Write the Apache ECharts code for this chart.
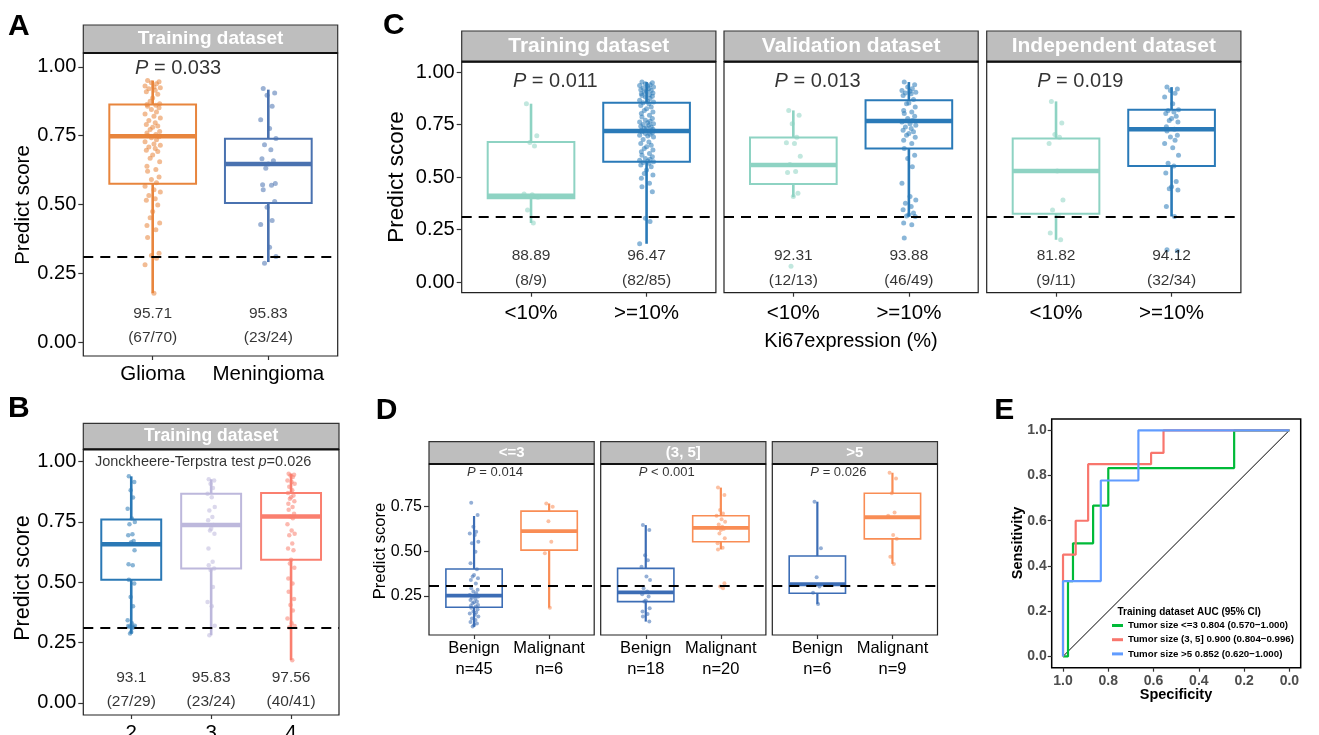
<!DOCTYPE html>
<html>
<head>
<meta charset="utf-8">
<script src="https://cdn.jsdelivr.net/npm/echarts@6/dist/echarts.min.js"></script>
<style>
  html, body { margin: 0; padding: 0; background: #fff; }
  #main { width: 1319px; height: 735px; }
</style>
</head>
<body>
<div id="main"></div>
<script>
// ---------- data ----------
// panel A
const aCats = ['Glioma', 'Meningioma'];
const aBoxes = [[0.178, 0.575, 0.748, 0.863, 0.950], [0.291, 0.505, 0.647, 0.739, 0.917]];
const aGlioma = [0.950, 0.946, 0.942, 0.938, 0.930, 0.927, 0.924, 0.920, 0.915, 0.909,
  0.900, 0.887, 0.875, 0.866, 0.863, 0.860, 0.857, 0.851, 0.845, 0.836,
  0.829, 0.820, 0.814, 0.805, 0.797, 0.790, 0.785, 0.780, 0.772, 0.765,
  0.760, 0.754, 0.750, 0.746, 0.742, 0.735, 0.728, 0.720, 0.715, 0.709,
  0.703, 0.697, 0.692, 0.680, 0.668, 0.655, 0.639, 0.627, 0.621, 0.600,
  0.591, 0.579, 0.566, 0.554, 0.545, 0.533, 0.521, 0.515, 0.498, 0.475,
  0.452, 0.433, 0.424, 0.408, 0.380, 0.323, 0.315, 0.305, 0.281, 0.178];
const aMening = [0.921, 0.905, 0.897, 0.857, 0.808, 0.776, 0.740, 0.717, 0.699, 0.666,
  0.659, 0.647, 0.632, 0.576, 0.572, 0.570, 0.554, 0.511, 0.490, 0.442,
  0.427, 0.345, 0.311, 0.287];
const aRates = ['95.71', '95.83'];
const aCounts = ['(67/70)', '(23/24)'];

// panel B
const bCats = ['2', '3', '4'];
const bBoxes = [[0.287, 0.510, 0.657, 0.759, 0.938], [0.280, 0.556, 0.737, 0.866, 0.926], [0.177, 0.593, 0.772, 0.869, 0.949]];
const bG2 = [0.938, 0.915, 0.880, 0.850, 0.804, 0.763, 0.749, 0.740, 0.698, 0.694,
  0.670, 0.665, 0.659, 0.632, 0.574, 0.570, 0.510, 0.494, 0.439, 0.400,
  0.342, 0.330, 0.320, 0.315, 0.312, 0.318, 0.313, 0.294, 0.287];
const bG3 = [0.926, 0.921, 0.907, 0.890, 0.866, 0.852, 0.811, 0.797, 0.770, 0.756,
  0.737, 0.721, 0.714, 0.700, 0.639, 0.584, 0.570, 0.556, 0.550, 0.480,
  0.418, 0.400, 0.320, 0.280];
const bG4 = [0.949, 0.945, 0.942, 0.935, 0.921, 0.915, 0.907, 0.895, 0.880, 0.869,
  0.859, 0.852, 0.845, 0.835, 0.825, 0.811, 0.800, 0.783, 0.772, 0.765,
  0.740, 0.714, 0.700, 0.694, 0.660, 0.639, 0.632, 0.593, 0.577, 0.560,
  0.515, 0.494, 0.460, 0.430, 0.405, 0.383, 0.350, 0.330, 0.318, 0.312, 0.177];
const bRates = ['93.1', '95.83', '97.56'];
const bCounts = ['(27/29)', '(23/24)', '(40/41)'];

// panel C
const cCats = ['<10%', '>=10%'];
const cTitles = ['Training dataset', 'Validation dataset', 'Independent dataset'];
const cPvals = ['0.011', '0.013', '0.019'];
const cBoxes = [
  [[0.282, 0.400, 0.412, 0.668, 0.850], [0.183, 0.574, 0.720, 0.855, 0.953]],
  [[0.405, 0.468, 0.558, 0.689, 0.818], [0.313, 0.637, 0.768, 0.866, 0.953]],
  [[0.202, 0.326, 0.529, 0.684, 0.861], [0.313, 0.553, 0.728, 0.821, 0.929]]
];
const cTrainLow = [0.850, 0.697, 0.665, 0.648, 0.420, 0.416, 0.405, 0.344, 0.282];
const cTrainHigh = [0.953, 0.950, 0.945, 0.940, 0.937, 0.933, 0.929, 0.925, 0.921, 0.917,
  0.913, 0.909, 0.905, 0.901, 0.897, 0.893, 0.889, 0.885, 0.882, 0.875,
  0.866, 0.862, 0.858, 0.854, 0.850, 0.842, 0.834, 0.826, 0.818, 0.810,
  0.803, 0.795, 0.787, 0.780, 0.771, 0.767, 0.763, 0.759, 0.755, 0.751,
  0.747, 0.743, 0.739, 0.735, 0.732, 0.728, 0.724, 0.720, 0.716, 0.712,
  0.708, 0.704, 0.700, 0.696, 0.692, 0.680, 0.668, 0.660, 0.652, 0.645,
  0.637, 0.629, 0.621, 0.613, 0.605, 0.597, 0.589, 0.585, 0.581, 0.577,
  0.574, 0.570, 0.566, 0.558, 0.550, 0.534, 0.518, 0.510, 0.495, 0.471,
  0.455, 0.431, 0.305, 0.289, 0.183];
const cValLow = [0.818, 0.795, 0.755, 0.690, 0.664, 0.661, 0.600, 0.560, 0.527, 0.522, 0.423, 0.408, 0.076];
const cValHigh = [0.953, 0.940, 0.929, 0.921, 0.913, 0.909, 0.905, 0.901, 0.897, 0.889,
  0.870, 0.853, 0.850, 0.834, 0.818, 0.811, 0.803, 0.790, 0.779, 0.770,
  0.763, 0.755, 0.747, 0.739, 0.732, 0.724, 0.716, 0.708, 0.700, 0.690,
  0.676, 0.660, 0.637, 0.605, 0.589, 0.550, 0.471, 0.408, 0.392, 0.376,
  0.360, 0.345, 0.329, 0.321, 0.315, 0.313, 0.282, 0.274, 0.211];
const cIndLow = [0.861, 0.758, 0.703, 0.690, 0.661, 0.529, 0.392, 0.344, 0.318, 0.234, 0.202];
const cIndHigh = [0.929, 0.920, 0.913, 0.900, 0.882, 0.850, 0.821, 0.818, 0.810, 0.803,
  0.790, 0.779, 0.770, 0.763, 0.740, 0.728, 0.720, 0.700, 0.692, 0.676,
  0.661, 0.640, 0.605, 0.566, 0.553, 0.520, 0.480, 0.455, 0.445, 0.439,
  0.360, 0.313, 0.155, 0.150];
const cRates = [['88.89', '96.47'], ['92.31', '93.88'], ['81.82', '94.12']];
const cCounts = [['(8/9)', '(82/85)'], ['(12/13)', '(46/49)'], ['(9/11)', '(32/34)']];

// panel D
const dCats = ['Benign', 'Malignant'];
const dTitles = ['<=3', '(3, 5]', '>5'];
const dN = [[45, 6], [18, 20], [6, 9]];
const dPtext = ['{i|P} = 0.014', '{i|P} < 0.001', '{i|P} = 0.026'];
const dBoxes = [
  [[0.078, 0.187, 0.252, 0.401, 0.698], [0.185, 0.507, 0.613, 0.725, 0.768]],
  [[0.107, 0.219, 0.271, 0.405, 0.647], [0.511, 0.554, 0.632, 0.699, 0.857]],
  [[0.206, 0.266, 0.316, 0.474, 0.778], [0.430, 0.570, 0.691, 0.825, 0.940]]
];
const dBenign1 = [0.772, 0.703, 0.638, 0.610, 0.600, 0.591, 0.554, 0.545, 0.498, 0.433,
  0.400, 0.368, 0.359, 0.350, 0.340, 0.320, 0.293, 0.285, 0.275, 0.265,
  0.256, 0.252, 0.247, 0.240, 0.235, 0.228, 0.220, 0.215, 0.209, 0.200,
  0.195, 0.191, 0.185, 0.175, 0.163, 0.158, 0.153, 0.145, 0.135, 0.125,
  0.116, 0.105, 0.097, 0.088, 0.079];
const dMalig1 = [0.768, 0.750, 0.669, 0.554, 0.489, 0.185];
const dBenign2 = [0.647, 0.619, 0.479, 0.451, 0.414, 0.359, 0.340, 0.293, 0.275, 0.260,
  0.247, 0.225, 0.219, 0.182, 0.163, 0.150, 0.135, 0.107];
const dMalig2 = [0.857, 0.815, 0.731, 0.712, 0.700, 0.680, 0.666, 0.650, 0.638, 0.630,
  0.625, 0.619, 0.600, 0.573, 0.545, 0.520, 0.511, 0.321, 0.303, 0.293];
const dBenign3 = [0.778, 0.517, 0.355, 0.303, 0.269, 0.206];
const dMalig3 = [0.940, 0.908, 0.825, 0.718, 0.700, 0.592, 0.570, 0.470, 0.430];

// panel E (specificity, sensitivity)
const eNames = ['Tumor size <=3 0.804 (0.570\u22121.000)', 'Tumor size (3, 5] 0.900 (0.804\u22120.996)', 'Tumor size >5 0.852 (0.620\u22121.000)'];
const rocSmall = [[1, 0], [0.978, 0], [0.978, 0.333], [0.956, 0.333], [0.956, 0.5], [0.867, 0.5], [0.867, 0.667], [0.8, 0.667], [0.8, 0.833], [0.244, 0.833], [0.244, 1], [0, 1]];
const rocMid = [[1, 0], [1, 0.45], [0.944, 0.45], [0.944, 0.6], [0.889, 0.6], [0.889, 0.85], [0.611, 0.85], [0.611, 0.9], [0.556, 0.9], [0.556, 1], [0, 1]];
const rocLarge = [[1, 0], [1, 0.333], [0.833, 0.333], [0.833, 0.778], [0.667, 0.778], [0.667, 1], [0, 1]];

const cutoff = 0.31;
const scoreTicks = [0, 0.25, 0.5, 0.75, 1];

// ---------- layout / styling ----------
const FONT = 'Liberation Sans, Arial, Helvetica, sans-serif';
const jitter = [-0.04, 0.05, -0.01, 0.03, -0.06, 0.01, 0.06, -0.03, 0.02, -0.05, 0.04, 0.0, -0.02, 0.055, -0.045, 0.025];

const grids = [], xAxes = [], yAxes = [], series = [], graphics = [];

function boxRenderer(colors, boxW, lw, mw) {
  return function (params, api) {
    const x = api.value(0);
    const lo = api.coord([x, api.value(1)]);
    const q1 = api.coord([x, api.value(2)]);
    const md = api.coord([x, api.value(3)]);
    const q3 = api.coord([x, api.value(4)]);
    const hi = api.coord([x, api.value(5)]);
    const hw = api.size([boxW, 0])[0] / 2;
    const c = colors[params.dataIndex];
    return {
      type: 'group',
      children: [
        {type: 'line', shape: {x1: hi[0], y1: hi[1], x2: q3[0], y2: q3[1]}, style: {stroke: c, lineWidth: lw + 0.6}},
        {type: 'line', shape: {x1: q1[0], y1: q1[1], x2: lo[0], y2: lo[1]}, style: {stroke: c, lineWidth: lw + 0.6}},
        {type: 'rect', shape: {x: q3[0] - hw, y: q3[1], width: 2 * hw, height: q1[1] - q3[1]}, style: {fill: '#fff', stroke: c, lineWidth: lw}},
        {type: 'line', shape: {x1: md[0] - hw, y1: md[1], x2: md[0] + hw, y2: md[1]}, style: {stroke: c, lineWidth: mw}}
      ]
    };
  };
}

function txt(x, y, s, size) {
  return {
    value: [x, y],
    label: {formatter: s, fontSize: size, rich: {i: {fontStyle: 'italic', fontSize: size, fontFamily: FONT, color: '#000'}}}
  };
}

function strip(left, top, width, height, text, size) {
  graphics.push({
    type: 'rect', shape: {x: left, y: top, width: width, height: height},
    style: {fill: '#BEBEBE', stroke: '#333', lineWidth: 1.2}
  });
  graphics.push({
    type: 'line', shape: {x1: left, y1: top + height, x2: left + width, y2: top + height},
    style: {stroke: '#111', lineWidth: 2.2}, z: 10
  });
  graphics.push({
    type: 'text', x: left + width / 2, y: top + height / 2,
    style: {text: text, fill: '#fff', font: 'bold ' + size + 'px ' + FONT, align: 'center', verticalAlign: 'middle',
      textAlign: 'center', textVerticalAlign: 'middle'}
  });
}

function label(x, y, text, size, opts) {
  opts = opts || {};
  graphics.push({
    type: 'text', x: x, y: y, rotation: opts.rot || 0,
    style: {text: text, fill: opts.color || '#000', font: (opts.weight || 'normal') + ' ' + size + 'px ' + FONT,
      align: opts.align || 'center', verticalAlign: 'middle', textAlign: opts.align || 'center', textVerticalAlign: 'middle'}
  });
}

function addPanel(p) {
  const gi = grids.length;
  const n = p.cats.length;
  const idx = p.cats.map((c, i) => i + 1);
  grids.push({left: p.left, top: p.top, width: p.width, height: p.height, show: true, containLabel: false,
    outerBoundsMode: 'none', borderColor: '#222', borderWidth: 1.2, backgroundColor: '#fff'});
  xAxes.push({
    gridIndex: gi, type: 'value', min: 0.4, max: n + 0.6,
    splitLine: {show: false}, axisLine: {show: false, onZero: false},
    axisTick: {show: true, customValues: idx, length: 4, lineStyle: {color: '#333', width: 1.2}},
    axisLabel: {show: true, customValues: idx, formatter: v => p.cats[Math.round(v) - 1],
      fontSize: p.xFont, color: '#000', margin: p.xMargin, fontFamily: FONT, lineHeight: p.xLine || p.xFont * 1.2}
  });
  yAxes.push({
    gridIndex: gi, type: 'value', min: p.yMin, max: p.yMax,
    splitLine: {show: false}, axisLine: {show: false, onZero: false},
    axisTick: {show: !!p.yLabels, customValues: p.yTicks, length: 5, lineStyle: {color: '#333', width: 1.2}},
    axisLabel: {show: !!p.yLabels, customValues: p.yTicks, formatter: v => v.toFixed(2),
      fontSize: p.yFont, color: '#000', margin: 7, fontFamily: FONT}
  });
  series.push({
    type: 'custom', xAxisIndex: gi, yAxisIndex: gi, silent: true, z: 2,
    renderItem: boxRenderer(p.colors, 0.75, p.lw, p.mw),
    data: p.boxes.map((b, i) => [i + 1].concat(b))
  });
  p.points.forEach((vals, k) => {
    series.push({
      type: 'scatter', xAxisIndex: gi, yAxisIndex: gi, silent: true, z: 3,
      symbolSize: p.dot, itemStyle: {color: p.colors[k], opacity: 0.55},
      data: vals.map((v, i) => [k + 1 + jitter[i % jitter.length] * p.jit, v])
    });
  });
  series.push({
    type: 'scatter', xAxisIndex: gi, yAxisIndex: gi, silent: true, z: 4,
    symbolSize: 1, itemStyle: {color: 'transparent'},
    label: {show: true, position: 'inside', color: '#000', fontFamily: FONT},
    data: p.texts,
    markLine: {
      silent: true, symbol: 'none', label: {show: false},
      lineStyle: {type: [10, 7], color: '#000', width: 2},
      data: [{yAxis: cutoff}]
    }
  });
  return gi;
}

// ---------- panel A ----------
addPanel({
  left: 83.3, top: 53, width: 254.4, height: 303, yMin: -0.05, yMax: 1.05, yTicks: scoreTicks, yLabels: true, yFont: 20,
  cats: aCats, xFont: 20.5, xMargin: 6, colors: ['#E8853D', '#4A72B0'], boxes: aBoxes, points: [aGlioma, aMening],
  lw: 2, mw: 4.5, dot: 5, jit: 1.1,
  texts: [txt(1.22, 0.995, '{i|P} = 0.033', 20)]
    .concat(aRates.map((r, i) => txt(i + 1, 0.105, r, 15.5)))
    .concat(aCounts.map((r, i) => txt(i + 1, 0.017, r, 15.5)))
});
strip(83.3, 25, 254.4, 28, 'Training dataset', 19);
label(23, 205, 'Predict score', 20.5, {rot: Math.PI / 2});
label(8, 26.5, 'A', 30, {weight: 'bold', align: 'left'});

// ---------- panel B ----------
addPanel({
  left: 83.3, top: 449.3, width: 255.7, height: 265.7, yMin: -0.05, yMax: 1.05, yTicks: scoreTicks, yLabels: true, yFont: 20,
  cats: bCats, xFont: 20.5, xMargin: 6, colors: ['#2A78B5', '#BDB8DC', '#FA7F6F'], boxes: bBoxes, points: [bG2, bG3, bG4],
  lw: 2, mw: 4.5, dot: 4.5, jit: 0.75,
  texts: [txt(1.9, 0.997, 'Jonckheere-Terpstra test {i|p}=0.026', 14.5)]
    .concat(bRates.map((r, i) => txt(i + 1, 0.105, r, 15.5)))
    .concat(bCounts.map((r, i) => txt(i + 1, 0.004, r, 15.5)))
});
strip(83.3, 423.3, 255.7, 26, 'Training dataset', 17.5);
label(23, 578, 'Predict score', 21.5, {rot: Math.PI / 2});
label(8, 409, 'B', 30, {weight: 'bold', align: 'left'});

// ---------- panel C ----------
const cLefts = [461.7, 724, 986.7];
const cPoints = [[cTrainLow, cTrainHigh], [cValLow, cValHigh], [cIndLow, cIndHigh]];
cLefts.forEach((left, k) => {
  addPanel({
    left: left, top: 61.7, width: 254.2, height: 231, yMin: -0.05, yMax: 1.05, yTicks: scoreTicks, yLabels: k === 0, yFont: 20,
    cats: cCats, xFont: 20.5, xMargin: 8, colors: ['#8ED3C3', '#2A7AB8'], boxes: cBoxes[k], points: cPoints[k],
    lw: 2, mw: 4.5, dot: 5, jit: 1.0,
    texts: [txt(1.21, 0.956, '{i|P} = ' + cPvals[k], 20)]
      .concat(cRates[k].map((r, i) => txt(i + 1, 0.128, r, 15.5)))
      .concat(cCounts[k].map((r, i) => txt(i + 1, 0.005, r, 15.5)))
  });
  strip(left, 31, 254.2, 30.7, cTitles[k], 21);
});
label(396.7, 177, 'Predict score', 22.5, {rot: Math.PI / 2});
label(851, 341.7, 'Ki67expression (%)', 20);
label(383, 25.8, 'C', 30, {weight: 'bold', align: 'left'});

// ---------- panel D ----------
const dLefts = [429, 600.7, 772.3];
const dPoints = [[dBenign1, dMalig1], [dBenign2, dMalig2], [dBenign3, dMalig3]];
dLefts.forEach((left, k) => {
  addPanel({
    left: left, top: 464, width: 165.2, height: 171, yMin: 0.032, yMax: 0.989, yTicks: [0.25, 0.5, 0.75], yLabels: k === 0, yFont: 16,
    cats: dCats.map((c, i) => c + '\nn=' + dN[k][i]), xFont: 16.5, xLine: 21, xMargin: 3,
    colors: ['#3C6DB5', '#F98D55'], boxes: dBoxes[k], points: dPoints[k],
    lw: 1.6, mw: 3.8, dot: 4, jit: 0.95,
    texts: [txt(1.28, 0.94, dPtext[k], 13)]
  });
  strip(left, 441.7, 165.2, 22.3, dTitles[k], 15);
});
label(380.7, 551, 'Predict score', 16.5, {rot: Math.PI / 2});
label(375.7, 410.8, 'D', 30, {weight: 'bold', align: 'left'});

// ---------- panel E ----------
const eTicks = [0, 0.2, 0.4, 0.6, 0.8, 1];
const ge = grids.length;
grids.push({left: 1051.7, top: 419, width: 249, height: 248.7, show: true, containLabel: false, outerBoundsMode: 'none',
  borderColor: '#000', borderWidth: 1.5, backgroundColor: '#fff'});
xAxes.push({
  gridIndex: ge, type: 'value', inverse: true, min: -0.05, max: 1.05,
  splitLine: {show: false}, axisLine: {show: false, onZero: false},
  axisTick: {show: true, customValues: eTicks, length: 4, lineStyle: {color: '#333', width: 1.2}},
  axisLabel: {customValues: eTicks, formatter: v => v.toFixed(1), fontSize: 14, fontWeight: 'bold', color: '#4D4D4D', margin: 6, fontFamily: FONT}
});
yAxes.push({
  gridIndex: ge, type: 'value', min: -0.05, max: 1.05,
  splitLine: {show: false}, axisLine: {show: false, onZero: false},
  axisTick: {show: true, customValues: eTicks, length: 4, lineStyle: {color: '#333', width: 1.2}},
  axisLabel: {customValues: eTicks, formatter: v => v.toFixed(1), fontSize: 14, fontWeight: 'bold', color: '#4D4D4D', margin: 5, fontFamily: FONT}
});
series.push({
  type: 'line', xAxisIndex: ge, yAxisIndex: ge, silent: true, showSymbol: false, z: 2,
  lineStyle: {color: '#000', width: 1}, data: [[1, 0], [0, 1]]
});
const eColors = ['#00BA38', '#F8766D', '#619CFF'];
[rocSmall, rocMid, rocLarge].forEach((d, k) => {
  series.push({
    name: eNames[k], type: 'line', xAxisIndex: ge, yAxisIndex: ge, silent: true, showSymbol: false, z: 3 + k,
    color: eColors[k], lineStyle: {color: eColors[k], width: 2.2}, data: d
  });
});
label(1176, 695, 'Specificity', 14.5, {weight: 'bold'});
label(1018, 543, 'Sensitivity', 14.5, {weight: 'bold', rot: Math.PI / 2});
label(1117.5, 612.3, 'Training dataset AUC (95% CI)', 10, {weight: 'bold', align: 'left'});
label(994.3, 410.8, 'E', 30, {weight: 'bold', align: 'left'});

const chart = echarts.init(document.getElementById('main'), null, {renderer: 'canvas'});
chart.setOption({
  animation: false,
  backgroundColor: '#fff',
  textStyle: {fontFamily: FONT},
  grid: grids,
  xAxis: xAxes,
  yAxis: yAxes,
  legend: {
    data: eNames, orient: 'vertical', left: 1112, top: 620, padding: 0, icon: 'rect', itemWidth: 11, itemHeight: 3, itemGap: 3.2,
    textStyle: {fontSize: 9.7, fontWeight: 'bold', color: '#000', fontFamily: FONT, lineHeight: 11},
    selectedMode: false
  },
  series: series,
  graphic: {elements: graphics}
});
</script>
</body>
</html>
